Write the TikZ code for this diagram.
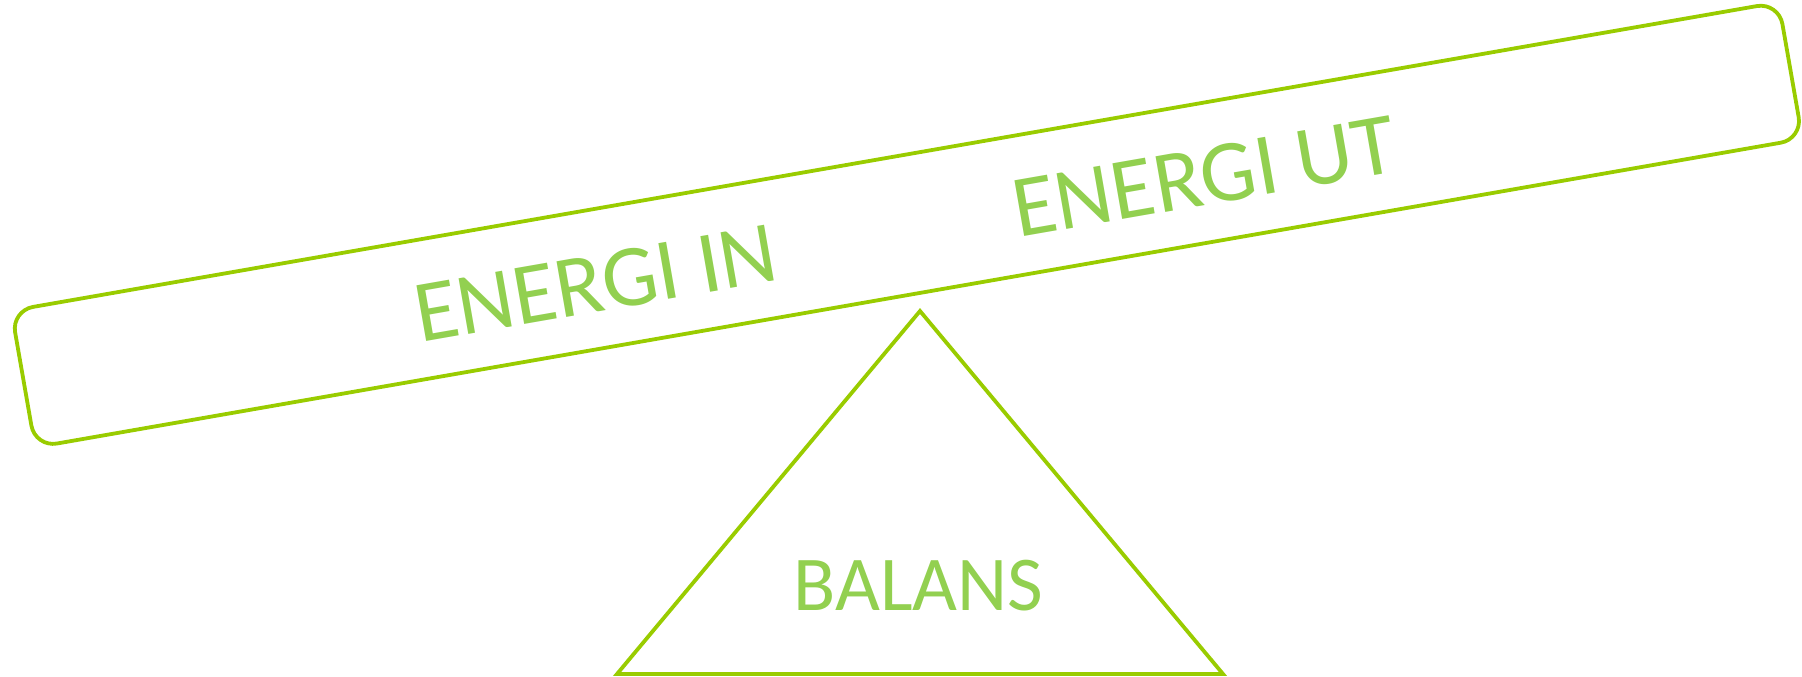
\documentclass[tikz,border=0pt]{standalone}
\usepackage{fontspec}
\setmainfont{Carlito}
\definecolor{plankgreen}{HTML}{99CC00}
\definecolor{textgreen}{HTML}{92D050}
\begin{document}
\begin{tikzpicture}[x=0.5pt,y=-0.5pt,
  outline/.style={draw=plankgreen, line width=1.9pt},
  plankbox/.style={outline, rounded corners=11pt, minimum width=897pt, minimum height=69.35pt, inner sep=0pt, rotate=9.9},
  tiltlabel/.style={text=textgreen, inner sep=0pt, font=\fontsize{44pt}{44pt}\selectfont, anchor=base west, rotate=9.9},
  baselabel/.style={text=textgreen, inner sep=0pt, font=\fontsize{38.8pt}{38.8pt}\selectfont, anchor=base}]
\useasboundingbox (0,0) rectangle (1802,676);
\node[plankbox] (plank) at (906.9,224.8) {};
\node[tiltlabel] (ein) at (419.8,342.9) {ENERGI IN};
\node[tiltlabel] (eut) at (1018.1,237.9) {ENERGI UT};
\coordinate (apex) at (920,311);
\coordinate (bl) at (617,674);
\coordinate (br) at (1223,674);
\draw[outline, line join=miter] (apex) -- (br) -- (bl) -- cycle;
\node[baselabel] (balans) at (918.5,610.7) {BALANS};
\end{tikzpicture}
\end{document}
